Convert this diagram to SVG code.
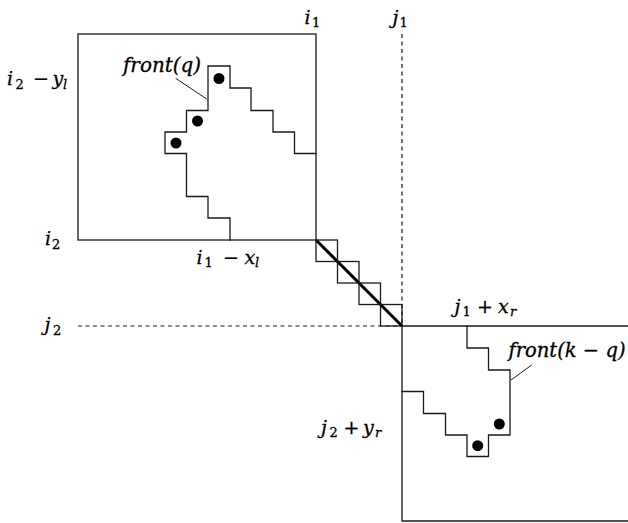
<svg xmlns="http://www.w3.org/2000/svg" width="628" height="523" viewBox="0 0 628 523">
<style>
.ln{fill:none;stroke:#1a1a1a;stroke-width:1.3;stroke-linecap:square}
.thin{fill:none;stroke:#1a1a1a;stroke-width:1}
.dash{fill:none;stroke:#1a1a1a;stroke-width:1.2;stroke-dasharray:4 3.5}
.thick{fill:none;stroke:#000;stroke-width:3}
.dot{fill:#000}
.lbl{fill:#000;stroke:#000;stroke-width:0.3}
</style>
<rect width="628" height="523" fill="#fff"/>
<g id="connectors">
<line class="dash" x1="402" y1="34" x2="402" y2="326"/>
<line class="dash" x1="78" y1="326" x2="402" y2="326"/>
<line class="thick" x1="316" y1="240" x2="402" y2="326"/>
<path class="thin" d="M175.7,78.3 L206.7,99"/>
<path class="thin" d="M511,380 L531.7,365"/>
</g>
<g id="left-box">
<rect class="ln" x="78" y="34" width="238" height="206"/>
</g>
<g id="front-q">
<path class="ln" d="M230,240 V218 H208 V196.5 H186.5 V153.5 H165 V132 H186.5 V110.5 H208 V66 H230 V88 H251 V110.5 H273 V132 H294.5 V153.5 H316"/>
<circle class="dot" cx="219" cy="78.5" r="5.5"/>
<circle class="dot" cx="197.5" cy="121" r="5.5"/>
<circle class="dot" cx="176" cy="143" r="5.5"/>
</g>
<g id="diagonal-steps">
<rect class="ln" x="316" y="240" width="21.5" height="21.5"/>
<rect class="ln" x="337.5" y="261.5" width="21.5" height="21.5"/>
<rect class="ln" x="359" y="283" width="21.5" height="21.5"/>
<rect class="ln" x="380.5" y="304.5" width="21.5" height="21.5"/>
</g>
<g id="right-box">
<path class="ln" d="M628,326 H402 V521 H628"/>
</g>
<g id="front-kq">
<path class="ln" d="M467,326 V348 H488.5 V370 H510 V435 H488.5 V456.5 H467 V435 H445.5 V413.5 H423.5 V391.5 H402"/>
<circle class="dot" cx="499.3" cy="424" r="5.5"/>
<circle class="dot" cx="477.7" cy="445.7" r="5.5"/>
</g>
<g id="labels" font-family="'DejaVu Serif', serif" font-size="19">
<text class="lbl"><tspan font-style="italic" x="304.5" y="23.5">i</tspan><tspan font-size="13" x="312" y="27">1</tspan></text>
<text class="lbl"><tspan font-style="italic" x="392.5" y="23.5">j</tspan><tspan font-size="13" x="399.5" y="27">1</tspan></text>
<text class="lbl"><tspan font-style="italic" x="7" y="85">i</tspan><tspan font-size="13" x="15.5" y="88.5">2</tspan><tspan x="41" y="85" text-anchor="middle">−</tspan><tspan font-style="italic" x="52.5" y="85">y</tspan><tspan font-size="13" font-style="italic" x="63" y="88.5">l</tspan></text>
<text class="lbl"><tspan font-style="italic" x="45" y="245">i</tspan><tspan font-size="13" x="52" y="248.5">2</tspan></text>
<text class="lbl"><tspan font-style="italic" x="196.5" y="263.5">i</tspan><tspan font-size="13" x="204.5" y="267">1</tspan><tspan x="231" y="263.5" text-anchor="middle">−</tspan><tspan font-style="italic" x="244.5" y="263.5">x</tspan><tspan font-size="13" font-style="italic" x="255" y="267">l</tspan></text>
<text class="lbl"><tspan font-style="italic" x="44.5" y="331">j</tspan><tspan font-size="13" x="53" y="334.5">2</tspan></text>
<text class="lbl"><tspan font-style="italic" x="454.5" y="312.5">j</tspan><tspan font-size="13" x="462.5" y="316">1</tspan><tspan x="485" y="312.5" text-anchor="middle">+</tspan><tspan font-style="italic" x="498" y="312.5">x</tspan><tspan font-size="13" font-style="italic" x="510" y="316">r</tspan></text>
<text class="lbl"><tspan font-style="italic" x="321" y="433.5">j</tspan><tspan font-size="13" x="329.5" y="437">2</tspan><tspan x="351.5" y="433.5" text-anchor="middle">+</tspan><tspan font-style="italic" x="363" y="433.5">y</tspan><tspan font-size="13" font-style="italic" x="375" y="437">r</tspan></text>
<text class="lbl" font-style="italic" font-size="20" x="123" y="71.5" textLength="78" lengthAdjust="spacingAndGlyphs">front(q)</text>
<text class="lbl" font-style="italic" font-size="20" x="508.5" y="356.5" textLength="117" lengthAdjust="spacingAndGlyphs">front(k − q)</text>
</g>
</svg>
